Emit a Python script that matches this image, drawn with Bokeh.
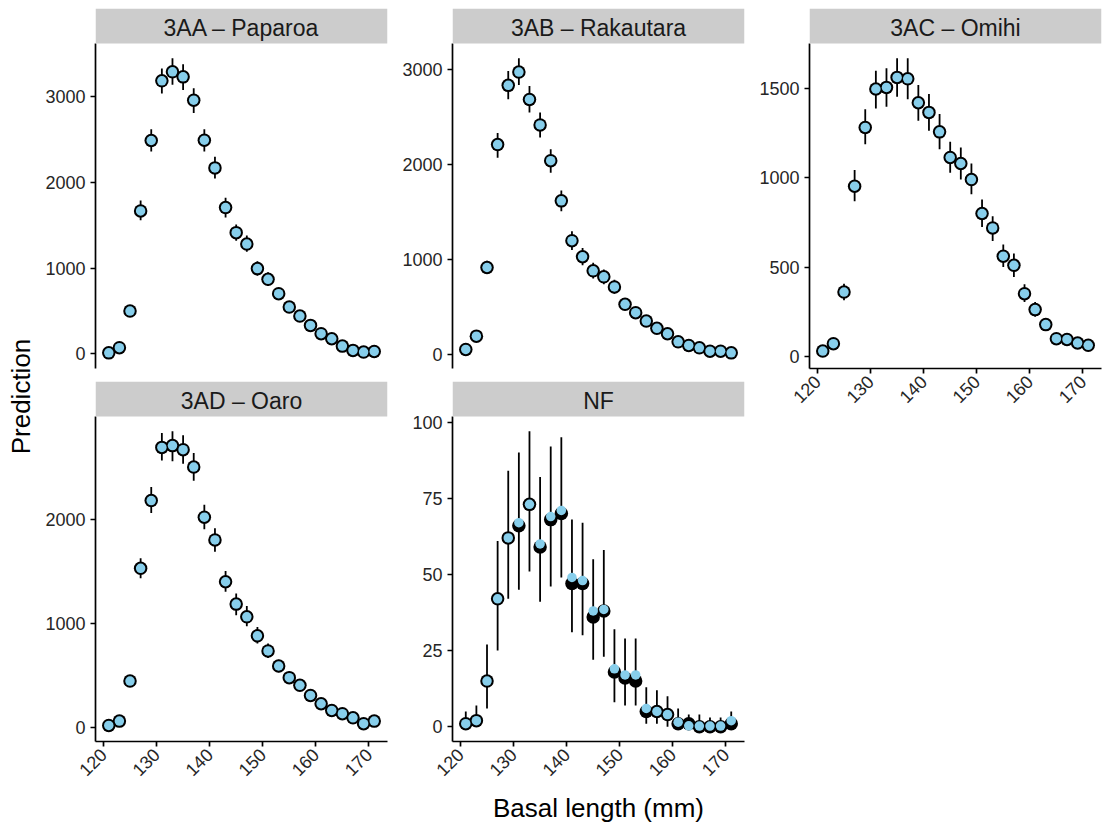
import math
from bokeh.plotting import figure
from bokeh.models import Range1d, FixedTicker, Label, ColumnDataSource, BoxAnnotation
from bokeh.layouts import row, column
from bokeh.embed import file_html
from bokeh.resources import INLINE

# ---------------- data ----------------
BASAL = [121, 123, 125, 127, 129, 131, 133, 135, 137, 139, 141, 143, 145,
         147, 149, 151, 153, 155, 157, 159, 161, 163, 165, 167, 169, 171]
X_TICKS = [120, 130, 140, 150, 160, 170]

NAMES = ["3AA – Paparoa", "3AB – Rakautara", "3AC – Omihi", "3AD – Oaro", "NF"]

PRED_3AA = [10, 70, 498, 1667, 2490, 3187, 3292, 3233, 2961, 2493, 2170, 1707, 1414,
            1281, 994, 869, 701, 545, 440, 331, 234, 175, 89, 39, 19, 27]
LO_3AA = [0, 40, 440, 1560, 2360, 3040, 3140, 3080, 2810, 2360, 2045, 1590, 1320,
          1190, 910, 790, 630, 485, 385, 285, 195, 140, 65, 25, 10, 15]
HI_3AA = [30, 110, 560, 1790, 2620, 3330, 3450, 3380, 3100, 2620, 2300, 1820, 1510,
          1380, 1080, 950, 770, 610, 500, 380, 275, 210, 115, 55, 30, 40]
OBS_3AA = PRED_3AA
TICKS_3AA = [0, 1000, 2000, 3000]

PRED_3AB = [53, 193, 915, 2208, 2831, 2971, 2683, 2415, 2039, 1616, 1197, 1028, 880,
            817, 711, 528, 440, 352, 275, 218, 133, 95, 70, 35, 35, 17]
LO_3AB = [35, 160, 850, 2070, 2686, 2834, 2546, 2282, 1912, 1506, 1098, 940, 800,
          740, 640, 470, 385, 305, 235, 180, 105, 70, 50, 20, 20, 8]
HI_3AB = [75, 230, 985, 2330, 2982, 3116, 2824, 2546, 2158, 1725, 1296, 1120, 965,
          895, 785, 590, 500, 405, 320, 260, 165, 120, 95, 50, 50, 30]
OBS_3AB = PRED_3AB
TICKS_3AB = [0, 1000, 2000, 3000]

PRED_3AC = [30, 71, 360, 953, 1282, 1497, 1506, 1562, 1554, 1420, 1366, 1257, 1114,
            1080, 990, 800, 719, 561, 510, 351, 262, 178, 99, 95, 75, 62]
LO_3AC = [15, 50, 314, 869, 1187, 1388, 1397, 1453, 1440, 1319, 1263, 1160, 1028,
          990, 908, 725, 646, 501, 445, 304, 222, 145, 75, 72, 55, 44]
HI_3AC = [50, 95, 407, 1043, 1383, 1599, 1613, 1669, 1669, 1519, 1469, 1357, 1201,
          1170, 1080, 878, 785, 626, 576, 404, 305, 215, 125, 122, 100, 85]
OBS_3AC = PRED_3AC
TICKS_3AC = [0, 500, 1000, 1500]

PRED_3AD = [22, 64, 449, 1533, 2185, 2696, 2713, 2674, 2507, 2025, 1806, 1404, 1189,
            1067, 884, 739, 594, 482, 408, 311, 231, 167, 135, 96, 39, 64]
LO_3AD = [10, 40, 395, 1437, 2064, 2571, 2562, 2539, 2375, 1909, 1693, 1308, 1083,
          977, 810, 670, 535, 430, 360, 270, 195, 135, 105, 72, 25, 45]
HI_3AD = [40, 90, 505, 1630, 2314, 2835, 2851, 2812, 2642, 2144, 1919, 1507, 1292,
          1170, 970, 810, 655, 540, 460, 355, 270, 200, 165, 122, 55, 85]
OBS_3AD = PRED_3AD
TICKS_3AD = [0, 1000, 2000]

PRED_NF = [1, 2, 15, 42, 62, 67, 73, 60, 69, 71, 49, 48, 38,
           38.5, 19, 17, 17, 6, 5, 4, 1.5, 0.3, 0.2, 0.2, 0.2, 2]
LO_NF = [0, 0, 6, 25, 42, 45, 51, 41, 46, 49, 31, 30, 22,
         23, 8, 7, 7, 1, 1, 0, 0, 0, 0, 0, 0, 0]
HI_NF = [5, 7, 27, 61, 84, 90, 97, 82, 92, 95, 68, 67, 55,
         58, 32, 29, 29, 13, 12, 10, 6, 4, 4, 3, 3, 5]
OBS_NF = [1, 2, 15, 42, 62, 66, 73, 59, 68, 70, 47, 47, 36,
          38, 18, 16, 15, 5, 5, 4, 1, 1, 0, 0, 0, 1]
TICKS_NF = [0, 25, 50, 75, 100]

# ---------------- style ----------------
FONT = "Liberation Sans"
SKY = "#87CEEB"
STRIP = "#CCCCCC"
FRAME_W, PANEL_H, STRIP_H = 292, 325, 35
LEFT = 60


def style_axis(ax):
    ax.axis_line_color = "black"
    ax.axis_line_width = 1.7
    ax.major_tick_line_color = "black"
    ax.major_tick_line_width = 1.7
    ax.major_tick_out = 5
    ax.major_tick_in = 0
    ax.minor_tick_line_color = None
    ax.major_label_standoff = 5
    ax.major_label_text_font = FONT
    ax.major_label_text_font_size = "18px"
    ax.major_label_text_color = "#262626"


def panel_fig(name, pred, lo, hi, obs, yticks, show_x, right, top, bottom,
              xlabel=None):
    x0, x1 = min(BASAL), max(BASAL)
    dx = (x1 - x0) * 0.05
    y0, y1 = min(lo), max(hi)
    dy = (y1 - y0) * 0.05
    ylo, yhi = y0 - dy, y1 + dy
    per_px = (yhi - ylo) / PANEL_H
    ytop = yhi + STRIP_H * per_px
    p = figure(frame_width=FRAME_W, frame_height=PANEL_H + STRIP_H,
               x_range=Range1d(x0 - dx, x1 + dx), y_range=Range1d(ylo, ytop),
               x_axis_type="linear" if show_x else None,
               min_border_left=LEFT, min_border_right=right,
               min_border_top=top, min_border_bottom=bottom,
               toolbar_location=None, output_backend="svg",
               outline_line_color=None, border_fill_color="white")
    p.grid.visible = False
    # facet strip
    p.add_layout(BoxAnnotation(bottom=yhi, fill_color=STRIP, fill_alpha=1.0,
                               line_color=None))
    p.add_layout(Label(x=(x0 + x1) / 2, y=yhi + (STRIP_H / 2 - 1.5) * per_px,
                       text=name, text_align="center", text_baseline="middle",
                       text_font=FONT, text_font_size="23px",
                       text_color="#1A1A1A"))
    src = ColumnDataSource(dict(x=BASAL, pred=pred, lo=lo, hi=hi, obs=obs))
    p.segment(x0="x", y0="lo", x1="x", y1="hi", source=src,
              line_color="black", line_width=1.8)
    p.scatter(x="x", y="obs", source=src, size=13.5, fill_color="black",
              line_color=None)
    p.scatter(x="x", y="pred", source=src, size=9.5, fill_color=SKY,
              line_color=None)
    p.yaxis.ticker = FixedTicker(ticks=yticks)
    for ax in p.yaxis:
        style_axis(ax)
        ax.bounds = (ylo, yhi)
    if show_x:
        p.xaxis.ticker = FixedTicker(ticks=X_TICKS)
        for ax in p.xaxis:
            style_axis(ax)
            ax.major_label_orientation = math.pi / 4
            if xlabel:
                ax.axis_label = xlabel
                ax.axis_label_text_font = FONT
                ax.axis_label_text_font_size = "26px"
                ax.axis_label_text_font_style = "normal"
                ax.axis_label_text_color = "black"
                ax.axis_label_standoff = 8
    return p


# y-axis title
yt = figure(frame_width=35, frame_height=823, x_range=Range1d(0, 35),
            y_range=Range1d(0, 823), x_axis_type=None, y_axis_type=None,
            min_border=0, toolbar_location=None, output_backend="svg",
            outline_line_color=None)
yt.grid.visible = False
yt.add_layout(Label(x=20, y=427, text="Prediction", angle=math.pi / 2,
                    text_align="center", text_baseline="middle",
                    text_font=FONT, text_font_size="26px", text_color="black"))

colA = column(
    panel_fig(NAMES[0], PRED_3AA, LO_3AA, HI_3AA, OBS_3AA, TICKS_3AA,
              False, 5, 8, 13),
    panel_fig(NAMES[3], PRED_3AD, LO_3AD, HI_3AD, OBS_3AD, TICKS_3AD,
              True, 5, 0, 82),
)
colB = column(
    panel_fig(NAMES[1], PRED_3AB, LO_3AB, HI_3AB, OBS_3AB, TICKS_3AB,
              False, 5, 8, 13),
    panel_fig(NAMES[4], PRED_NF, LO_NF, HI_NF, OBS_NF, TICKS_NF,
              True, 5, 0, 82, xlabel="Basal length (mm)"),
)
colC = column(
    panel_fig(NAMES[2], PRED_3AC, LO_3AC, HI_3AC, OBS_3AC, TICKS_3AC,
              True, 1, 8, 60),
)

layout = row(yt, colA, colB, colC)

open("out.html", "w").write(file_html(layout, INLINE))
